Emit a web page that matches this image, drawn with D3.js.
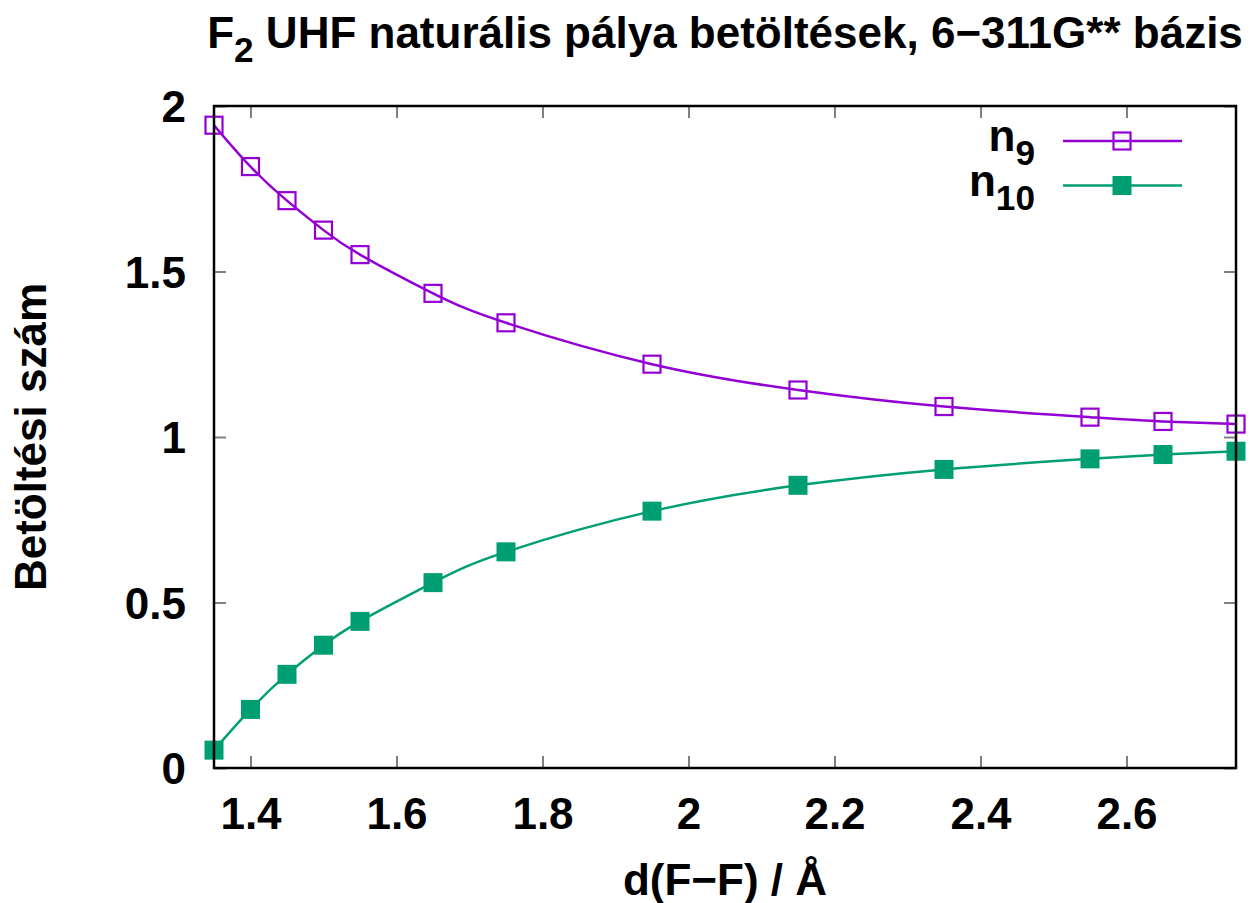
<!DOCTYPE html>
<html>
<head>
<meta charset="utf-8">
<script src="https://cdn.jsdelivr.net/npm/d3@7"></script>
<style>
  body { margin: 0; background: #fff; }
  svg text { font-family: "Liberation Sans", Arial, sans-serif; font-weight: bold; fill: #000; }
</style>
</head>
<body>
<script>
const w = 1256;
const h = 903;

// distance d(F-F) in Angstrom
const dist = [1.35, 1.40, 1.45, 1.50, 1.55, 1.65, 1.75, 1.95, 2.15, 2.35, 2.55, 2.65, 2.75];
// natural orbital occupations
const n9 = [1.942, 1.817, 1.714, 1.625, 1.551, 1.434, 1.345, 1.220, 1.142, 1.092, 1.060, 1.047, 1.039];
const n10 = [0.054, 0.177, 0.283, 0.371, 0.443, 0.560, 0.653, 0.776, 0.854, 0.902, 0.934, 0.947, 0.957];

const xTicks = [1.4, 1.6, 1.8, 2.0, 2.2, 2.4, 2.6];
const yTicks = [0, 0.5, 1, 1.5, 2];

const margin = { left: 214, right: 20, top: 106, bottom: 135 };
const fontSize = 44;

const svg = d3.select("body").append("svg").attr("width", w).attr("height", h);

const x = d3.scaleLinear().domain([1.35, 2.75]).range([margin.left, w - margin.right]);
const y = d3.scaleLinear().domain([0, 2]).range([h - margin.bottom, margin.top]);

const fmt = (d) => String(+d.toFixed(2));

// axes (ticks pointing inward like gnuplot)
const gx = svg.append("g")
  .attr("transform", `translate(0,${y(0)})`)
  .call(d3.axisBottom(x).tickValues(xTicks).tickFormat(fmt).tickSizeInner(-12).tickSizeOuter(0).tickPadding(30));
const gxTop = svg.append("g")
  .attr("transform", `translate(0,${y(2)})`)
  .call(d3.axisTop(x).tickValues(xTicks).tickFormat("").tickSizeInner(-12).tickSizeOuter(0));
const gy = svg.append("g")
  .attr("transform", `translate(${x(1.35)},0)`)
  .call(d3.axisLeft(y).tickValues(yTicks).tickFormat(fmt).tickSizeInner(-12).tickSizeOuter(0).tickPadding(28));
const gyRight = svg.append("g")
  .attr("transform", `translate(${x(2.75)},0)`)
  .call(d3.axisRight(y).tickValues(yTicks).tickFormat("").tickSizeInner(-12).tickSizeOuter(0));

[gx, gxTop, gy, gyRight].forEach((g) => {
  g.select(".domain").remove();
  g.selectAll(".tick line").attr("stroke", "#808080").attr("stroke-width", 2);
  g.selectAll(".tick text")
    .style("font-family", '"Liberation Sans", Arial, sans-serif')
    .style("font-weight", "bold")
    .attr("font-size", fontSize)
    .attr("fill", "#000");
});
gy.selectAll(".tick text").attr("dy", "0.36em");

// clip for lines
svg.append("clipPath").attr("id", "plotclip")
  .append("rect")
  .attr("x", x(1.35)).attr("y", y(2))
  .attr("width", x(2.75) - x(1.35)).attr("height", y(0) - y(2));

const series = [
  { name: "9", values: n9, color: "#9400d3", filled: false },
  { name: "10", values: n10, color: "#009e73", filled: true }
];

const line = d3.line()
  .x((d) => x(d[0]))
  .y((d) => y(d[1]))
  .curve(d3.curveNatural);

const ms = 17;

series.forEach((s) => {
  const pts = dist.map((d, i) => [d, s.values[i]]);
  svg.append("path")
    .datum(pts)
    .attr("clip-path", "url(#plotclip)")
    .attr("fill", "none")
    .attr("stroke", s.color)
    .attr("stroke-width", 2.5)
    .attr("d", line);

  svg.selectAll(null)
    .data(pts)
    .enter()
    .append("rect")
    .attr("x", (d) => x(d[0]) - (s.filled ? ms / 2 + 1 : ms / 2))
    .attr("y", (d) => y(d[1]) - (s.filled ? ms / 2 + 1 : ms / 2))
    .attr("width", s.filled ? ms + 2 : ms)
    .attr("height", s.filled ? ms + 2 : ms)
    .attr("fill", s.filled ? s.color : "none")
    .attr("stroke", s.filled ? "none" : s.color)
    .attr("stroke-width", 2.2);
});

// border
svg.append("rect")
  .attr("x", x(1.35)).attr("y", y(2))
  .attr("width", x(2.75) - x(1.35)).attr("height", y(0) - y(2))
  .attr("fill", "none")
  .attr("stroke", "#000")
  .attr("stroke-width", 2.5);

// legend
const legend = svg.append("g");
series.forEach((s, i) => {
  const ly = 141 + i * 44.5;
  const t = legend.append("text")
    .attr("x", 1035)
    .attr("y", ly + 10)
    .attr("text-anchor", "end")
    .attr("font-size", fontSize);
  t.append("tspan").text("n");
  t.append("tspan").attr("font-size", fontSize * 0.8).attr("dy", 14).text(s.name);

  legend.append("line")
    .attr("x1", 1063).attr("x2", 1182)
    .attr("y1", ly).attr("y2", ly)
    .attr("stroke", s.color).attr("stroke-width", 2.5);
  legend.append("rect")
    .attr("x", 1122 - (s.filled ? ms / 2 + 1 : ms / 2))
    .attr("y", ly - (s.filled ? ms / 2 + 1 : ms / 2))
    .attr("width", s.filled ? ms + 2 : ms)
    .attr("height", s.filled ? ms + 2 : ms)
    .attr("fill", s.filled ? s.color : "none")
    .attr("stroke", s.filled ? "none" : s.color)
    .attr("stroke-width", 2.2);
});

// title
const title = svg.append("text")
  .attr("x", (x(1.35) + x(2.75)) / 2)
  .attr("y", 48)
  .attr("text-anchor", "middle")
  .attr("font-size", fontSize);
title.append("tspan").text("F");
title.append("tspan").attr("font-size", fontSize * 0.8).attr("dy", 14).text("2");
title.append("tspan").attr("dy", -14).text(" UHF naturális pálya betöltések, 6\u2212311G** bázis");

// axis labels
svg.append("text")
  .attr("x", (x(1.35) + x(2.75)) / 2)
  .attr("y", 895)
  .attr("text-anchor", "middle")
  .attr("font-size", fontSize)
  .text("d(F\u2212F) / Å");

svg.append("text")
  .attr("transform", `translate(46,${(y(0) + y(2)) / 2}) rotate(-90)`)
  .attr("text-anchor", "middle")
  .attr("font-size", fontSize)
  .text("Betöltési szám");
</script>
</body>
</html>
